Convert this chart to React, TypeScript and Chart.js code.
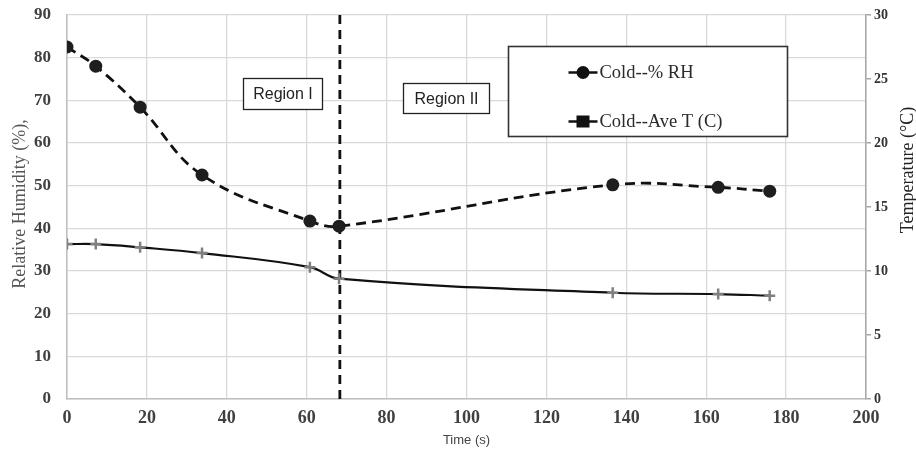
import React, { useEffect, useRef } from "react";
import { Chart, registerables } from "chart.js";

Chart.register(...registerables);

// ---- data ----
const timeSec = [0, 7.2, 18.3, 33.8, 60.8, 68.1, 136.6, 163, 175.9];
const rhValues = [82.5, 78.0, 68.4, 52.5, 41.7, 40.5, 50.2, 49.6, 48.7];
const tempValues = [12.1, 12.1, 11.85, 11.4, 10.3, 9.4, 8.3, 8.2, 8.07];
const dividerTime = 68.3;
const seriesLabels = ["Cold--% RH", "Cold--Ave T (C)"];
const regionLabels = ["Region I", "Region II"];
// region boxes in data units: [xMin, xMax, yMax, yMin]
const regionBoxes = [
  [44.0, 63.8, 75.2, 68.0],
  [84.1, 105.6, 74.1, 67.0],
];
const legendBox = [110.4, 180.2, 82.7, 61.6];

const SERIF = "'Liberation Serif', 'Times New Roman', serif";
const SANS = "'Liberation Sans', Arial, sans-serif";

const overlayPlugin = {
  id: "overlay",
  afterDatasetsDraw(chart: any) {
    const ctx = chart.ctx;
    const xs = chart.scales.x;
    const ys = chart.scales.y;
    const area = chart.chartArea;
    ctx.save();

    // region boxes
    regionBoxes.forEach((b, i) => {
      const x1 = Math.round(xs.getPixelForValue(b[0])) + 0.5;
      const x2 = Math.round(xs.getPixelForValue(b[1])) + 0.5;
      const y1 = Math.round(ys.getPixelForValue(b[2])) + 0.5;
      const y2 = Math.round(ys.getPixelForValue(b[3])) + 0.5;
      ctx.fillStyle = "#ffffff";
      ctx.fillRect(x1, y1, x2 - x1, y2 - y1);
      ctx.strokeStyle = "#222";
      ctx.lineWidth = 1.3;
      ctx.strokeRect(x1, y1, x2 - x1, y2 - y1);
      ctx.fillStyle = "#222";
      ctx.font = `16px ${SANS}`;
      ctx.textAlign = "center";
      ctx.textBaseline = "middle";
      ctx.fillText(regionLabels[i], (x1 + x2) / 2, (y1 + y2) / 2 + 1);
    });

    // legend box
    {
      const x1 = Math.round(xs.getPixelForValue(legendBox[0])) + 0.5;
      const x2 = Math.round(xs.getPixelForValue(legendBox[1])) + 0.5;
      const y1 = Math.round(ys.getPixelForValue(legendBox[2])) + 0.5;
      const y2 = Math.round(ys.getPixelForValue(legendBox[3])) + 0.5;
      ctx.fillStyle = "#ffffff";
      ctx.fillRect(x1, y1, x2 - x1, y2 - y1);
      ctx.strokeStyle = "#333";
      ctx.lineWidth = 1.6;
      ctx.strokeRect(x1, y1, x2 - x1, y2 - y1);

      const mx1 = x1 + 60;
      const mx2 = x1 + 89;
      const mc = (mx1 + mx2) / 2;
      const rowY = [y1 + 26, y1 + 75];
      ctx.strokeStyle = "#111";
      ctx.fillStyle = "#111";
      ctx.lineWidth = 2.5;
      rowY.forEach((ry, i) => {
        ctx.beginPath();
        ctx.moveTo(mx1, ry);
        ctx.lineTo(mx2, ry);
        ctx.stroke();
        if (i === 0) {
          ctx.beginPath();
          ctx.arc(mc, ry, 6.5, 0, Math.PI * 2);
          ctx.fill();
        } else {
          ctx.fillRect(mc - 6.5, ry - 6, 13, 12);
        }
        ctx.fillStyle = "#2a2a2a";
        ctx.font = `18.5px ${SERIF}`;
        ctx.textAlign = "left";
        ctx.textBaseline = "middle";
        ctx.fillText(seriesLabels[i], mx2 + 2, ry + 1);
        ctx.fillStyle = "#111";
      });
    }

    // axis titles
    ctx.fillStyle = "#555";
    ctx.font = `18px ${SERIF}`;
    ctx.textAlign = "center";
    ctx.textBaseline = "middle";
    ctx.save();
    ctx.translate(20, (area.top + area.bottom) / 2 - 3);
    ctx.rotate(-Math.PI / 2);
    ctx.fillText("Relative Humidity (%),", 0, 0);
    ctx.restore();

    ctx.fillStyle = "#222";
    ctx.save();
    ctx.translate(908, 170);
    ctx.rotate(-Math.PI / 2);
    ctx.fillText("Temperature (°C)", 0, 0);
    ctx.restore();

    ctx.fillStyle = "#444";
    ctx.font = `13px ${SANS}`;
    ctx.fillText("Time (s)", (area.left + area.right) / 2, 440);

    ctx.restore();
  },
};

export default function App() {
  const ref = useRef<HTMLCanvasElement | null>(null);
  useEffect(() => {
    if (!ref.current) return;
    const chart = new Chart(ref.current, {
      type: "line",
      data: {
        datasets: [
          {
            label: "divider",
            data: [
              { x: dividerTime, y: 0 },
              { x: dividerTime, y: 90 },
            ],
            borderColor: "#111",
            borderWidth: 2.8,
            borderDash: [9, 6],
            pointRadius: 0,
            yAxisID: "y",
            order: 3,
          },
          {
            label: seriesLabels[1],
            data: timeSec.map((t, i) => ({ x: t, y: tempValues[i] })),
            borderColor: "#111",
            borderWidth: 2.2,
            tension: 0.4,
            pointStyle: "cross",
            pointRadius: 5.5,
            pointBorderWidth: 2.5,
            pointBorderColor: "#808080",
            pointBackgroundColor: "#808080",
            yAxisID: "y1",
            order: 2,
          },
          {
            label: seriesLabels[0],
            data: timeSec.map((t, i) => ({ x: t, y: rhValues[i] })),
            borderColor: "#111",
            borderWidth: 2.8,
            borderDash: [10, 6],
            tension: 0.4,
            pointStyle: "circle",
            pointRadius: 6.5,
            pointBorderWidth: 0,
            pointBackgroundColor: "#1e1e1e",
            pointBorderColor: "#1e1e1e",
            yAxisID: "y",
            order: 1,
          },
        ],
      },
      options: {
        responsive: false,
        animation: false,
        layout: { padding: { top: 15, left: 0, right: 0, bottom: 0 } },
        plugins: {
          legend: { display: false },
          tooltip: { enabled: false },
        },
        scales: {
          x: {
            type: "linear",
            min: 0,
            max: 200,
            ticks: {
              stepSize: 20,
              color: "#404040",
              font: { family: SERIF, size: 18, weight: "bold" },
              padding: 9,
            },
            grid: { color: "#d9d9d9", drawTicks: false, lineWidth: 1.3 },
            border: { color: "#bfbfbf", width: 1.5 },
            afterFit(s: any) {
              s.height = 55;
              s.paddingLeft = 0;
              s.paddingRight = 0;
            },
          },
          y: {
            type: "linear",
            position: "left",
            min: 0,
            max: 90,
            ticks: {
              stepSize: 10,
              color: "#404040",
              font: { family: SERIF, size: 17, weight: "bold" },
              padding: 16,
            },
            grid: { color: "#d9d9d9", drawTicks: false, lineWidth: 1.3 },
            border: { color: "#bfbfbf", width: 1.5 },
            afterFit(s: any) {
              s.width = 67;
              s.paddingTop = 0;
              s.paddingBottom = 0;
            },
          },
          y1: {
            type: "linear",
            position: "right",
            min: 0,
            max: 30,
            ticks: {
              stepSize: 5,
              color: "#333",
              font: { family: SERIF, size: 14, weight: "bold" },
              padding: 3,
            },
            grid: {
              drawOnChartArea: false,
              drawTicks: true,
              tickLength: 5,
              color: "#a6a6a6",
              lineWidth: 1.5,
            },
            border: { color: "#a6a6a6", width: 1.5 },
            afterFit(s: any) {
              s.width = 50;
              s.paddingTop = 0;
              s.paddingBottom = 0;
            },
          },
        },
      },
      plugins: [overlayPlugin],
    } as any);
    return () => chart.destroy();
  }, []);

  return (
    <div style={{ position: "absolute", left: 0, top: 0, width: 916, height: 454, background: "#fff" }}>
      <canvas ref={ref} width={916} height={454} style={{ display: "block" }} />
    </div>
  );
}
